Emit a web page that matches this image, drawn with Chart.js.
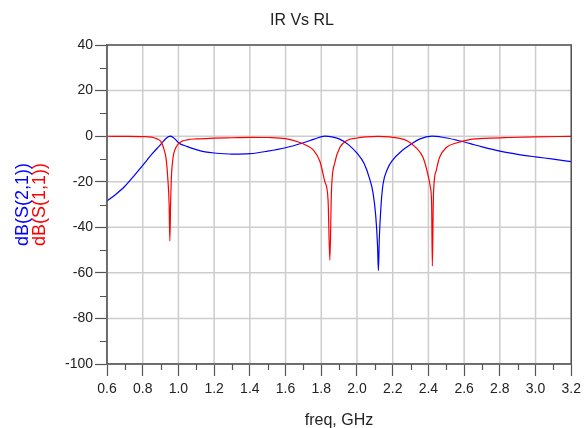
<!DOCTYPE html>
<html lang="en">
<head>
  <meta charset="UTF-8">
  <title>IR Vs RL</title>
  <script src="https://cdn.jsdelivr.net/npm/chart.js"></script>
  <style>
    body { margin: 0; background: #fff; }
    #chart { display: block; }
  </style>
</head>
<body>
  <canvas id="chart" width="586" height="428"></canvas>

  <script>
    // dB(S(2,1)) - blue trace
    const freqS21 = [0.60, 0.65, 0.70, 0.75, 0.80, 0.85, 0.90, 0.93, 0.955, 0.98, 1.00, 1.05, 1.10, 1.15, 1.20, 1.30, 1.40,
      1.50, 1.60, 1.70, 1.76, 1.82, 1.86, 1.90, 1.95, 2.00, 2.04, 2.07, 2.09, 2.105, 2.115, 2.12, 2.125, 2.135, 2.146,
      2.17, 2.20, 2.25, 2.30, 2.35, 2.42, 2.48, 2.56, 2.63, 2.70, 2.80, 2.90, 3.00, 3.10, 3.20];
    const dbS21 = [-28.5, -25.5, -22, -17.5, -12.8, -8, -3.7, -1.0, 0, -1.2, -2.9, -4.6, -5.9, -6.9, -7.4, -7.9, -7.7,
      -6.6, -5.1, -2.9, -1.3, 0, -0.3, -1.2, -3.6, -7.5, -12, -18.5, -25, -35, -48, -59, -45, -30, -21,
      -14.5, -10.5, -6.5, -3.7, -1.3, 0, -0.5, -1.8, -3.2, -4.7, -6.6, -8.0, -9.1, -10.1, -11.2];

    // dB(S(1,1)) - red trace
    const freqS11 = [0.60, 0.70, 0.80, 0.85, 0.88, 0.90, 0.916, 0.931, 0.940, 0.948, 0.952, 0.956, 0.960, 0.969, 0.986,
      1.015, 1.05, 1.10, 1.20, 1.30, 1.40, 1.50, 1.60, 1.68, 1.72, 1.755, 1.792, 1.82, 1.838, 1.848, 1.857, 1.876,
      1.904, 1.941, 2.00, 2.05, 2.12, 2.18, 2.24, 2.28, 2.33, 2.37, 2.397, 2.41, 2.418, 2.422, 2.428, 2.444, 2.462,
      2.50, 2.556, 2.63, 2.74, 2.85, 3.00, 3.20];
    const dbS11 = [-0.05, -0.1, -0.2, -0.4, -1.2, -2.2, -5, -10, -18, -30, -46, -30, -19, -10, -5,
      -2.5, -1.6, -1.2, -0.9, -0.7, -0.5, -0.6, -1.1, -2.8, -4.2, -6, -11, -20, -28, -54.5, -24, -11.6,
      -5, -2, -0.8, -0.3, -0.1, -0.3, -1.0, -2, -5, -9.4, -16.8, -22, -30, -57, -26, -15, -9.4,
      -5, -3, -1.5, -0.9, -0.6, -0.3, -0.1];

    const xMin = 0.6, xMax = 3.2, xStep = 0.2;
    const yMin = -100, yMax = 40, yStep = 20;

    const toPoints = (xs, ys) => xs.map((x, i) => ({ x: x, y: ys[i] }));

    // grid, frame, minor ticks and titles in the ADS look
    const decorations = {
      id: "decorations",
      beforeDatasetsDraw(chart) {
        const ctx = chart.ctx;
        const area = chart.chartArea;
        const xs = chart.scales.x;
        const ys = chart.scales.y;
        ctx.save();
        ctx.strokeStyle = "#cdcdcd";
        ctx.lineWidth = 1.5;
        ctx.beginPath();
        xs.ticks.forEach(t => {
          const px = xs.getPixelForValue(t.value);
          ctx.moveTo(px, area.top);
          ctx.lineTo(px, area.bottom);
        });
        ys.ticks.forEach(t => {
          const py = ys.getPixelForValue(t.value);
          ctx.moveTo(area.left, py);
          ctx.lineTo(area.right, py);
        });
        ctx.stroke();
        ctx.restore();
      },
      afterDraw(chart) {
        const ctx = chart.ctx;
        const area = chart.chartArea;
        const xs = chart.scales.x;
        const ys = chart.scales.y;
        ctx.save();

        ctx.strokeStyle = "#555";
        ctx.lineWidth = 1.5;
        ctx.strokeRect(area.left, area.top, area.right - area.left, area.bottom - area.top);

        // minor ticks
        ctx.lineWidth = 1.2;
        ctx.beginPath();
        for (let v = yMin + yStep / 2; v < yMax; v += yStep) {
          const py = Math.round(ys.getPixelForValue(v)) + 0.5;
          ctx.moveTo(area.left - 7, py);
          ctx.lineTo(area.left, py);
        }
        for (let v = xMin + xStep / 2; v < xMax; v += xStep) {
          const px = Math.round(xs.getPixelForValue(v)) + 0.5;
          ctx.moveTo(px, area.bottom);
          ctx.lineTo(px, area.bottom + 6);
        }
        ctx.stroke();

        ctx.fillStyle = "#222";
        ctx.textAlign = "center";
        ctx.textBaseline = "alphabetic";
        ctx.font = "16px 'Liberation Sans', Arial, sans-serif";
        ctx.fillText("IR Vs RL", 302, 25);
        ctx.fillText("freq, GHz", 339, 425);

        ctx.font = "18px 'Liberation Sans', Arial, sans-serif";
        const midY = (area.top + area.bottom) / 2;
        ctx.save();
        ctx.translate(28, midY);
        ctx.rotate(-Math.PI / 2);
        ctx.fillStyle = "#0000ff";
        ctx.fillText("dB(S(2,1))", 0, 0);
        ctx.restore();
        ctx.save();
        ctx.translate(44.5, midY);
        ctx.rotate(-Math.PI / 2);
        ctx.fillStyle = "#ff0000";
        ctx.fillText("dB(S(1,1))", 0, 0);
        ctx.restore();

        ctx.restore();
      }
    };

    new Chart(document.getElementById("chart").getContext("2d"), {
      type: "line",
      data: {
        datasets: [
          {
            label: "dB(S(1,1))",
            data: toPoints(freqS11, dbS11),
            borderColor: "#ff0000",
            borderWidth: 1.2,
            pointRadius: 0,
            cubicInterpolationMode: "monotone"
          },
          {
            label: "dB(S(2,1))",
            data: toPoints(freqS21, dbS21),
            borderColor: "#0000ff",
            borderWidth: 1.2,
            pointRadius: 0,
            cubicInterpolationMode: "monotone"
          }
        ]
      },
      options: {
        responsive: false,
        animation: false,
        devicePixelRatio: 1,
        layout: { padding: { top: 45, right: 14, bottom: 0, left: 0 } },
        plugins: {
          legend: { display: false },
          tooltip: { enabled: false }
        },
        scales: {
          x: {
            type: "linear",
            min: xMin,
            max: xMax,
            afterFit: s => { s.height = 64; },
            ticks: {
              stepSize: xStep,
              autoSkip: false,
              maxRotation: 0,
              padding: 5,
              color: "#222",
              font: { family: "'Liberation Sans', Arial, sans-serif", size: 14 },
              callback: v => v.toFixed(1)
            },
            grid: { drawOnChartArea: false, tickLength: 12, tickColor: "#555", tickWidth: 1.2 },
            border: { color: "#555", width: 1.5 }
          },
          y: {
            min: yMin,
            max: yMax,
            afterFit: s => { s.width = 107; },
            ticks: {
              stepSize: yStep,
              autoSkip: false,
              padding: 2,
              color: "#222",
              font: { family: "'Liberation Sans', Arial, sans-serif", size: 14 }
            },
            grid: { drawOnChartArea: false, tickLength: 12, tickColor: "#555", tickWidth: 1.2 },
            border: { color: "#555", width: 1.5 }
          }
        }
      },
      plugins: [decorations]
    });
  </script>
</body>
</html>
